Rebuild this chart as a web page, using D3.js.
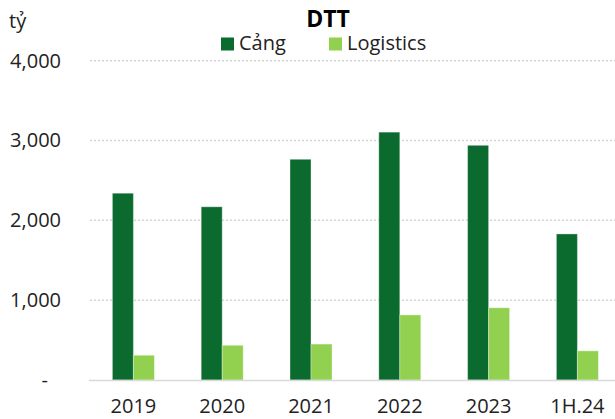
<!DOCTYPE html>
<html>
<head>
<meta charset="utf-8">
<script src="https://cdn.jsdelivr.net/npm/d3@7"></script>
<style>
  body { margin: 0; background: #fff; }
  svg { font-family: "Open Sans", "Noto Sans", sans-serif; }
</style>
</head>
<body>
<div id="chart"></div>
<script>
// data
var categories = ['2019', '2020', '2021', '2022', '2023', '1H.24'];
var seriesNames = ['Cảng', 'Logistics'];
var cang = [2340, 2170, 2765, 3105, 2940, 1830];
var logistics = [310, 435, 450, 815, 905, 365];
var yTicks = [0, 1000, 2000, 3000, 4000];
var colors = ['#0b6b2e', '#92d050'];

var width = 615, height = 419;

var svg = d3.select('#chart').append('svg')
    .attr('width', width)
    .attr('height', height);

var y = d3.scaleLinear()
    .domain([0, 4000])
    .range([380, 60.7]);

var x = d3.scaleBand()
    .domain(categories)
    .range([89, 621.8])
    .paddingInner(0.527)
    .paddingOuter(0.2635);

var xSub = d3.scaleBand()
    .domain(seriesNames)
    .range([0, x.bandwidth()]);

//Gridlines
svg.append('g')
    .selectAll('line')
    .data(yTicks.filter(function(d) { return d > 0; }))
    .enter().append('line')
    .attr('x1', 90)
    .attr('x2', width)
    .attr('y1', function(d) { return y(d); })
    .attr('y2', function(d) { return y(d); })
    .attr('stroke', '#d4d4d4')
    .attr('stroke-width', 1.5)
    .attr('stroke-dasharray', '2,2');

//Y axis
var yAxis = svg.append('g')
    .attr('transform', 'translate(89,0)')
    .call(d3.axisLeft(y)
        .tickValues(yTicks)
        .tickSize(0)
        .tickPadding(28)
        .tickFormat(function(d) { return d === 0 ? '-' : d3.format(',')(d); }));
yAxis.select('.domain').remove();
yAxis.selectAll('text')
    .attr('font-size', 20)
    .attr('font-family', '"Open Sans", sans-serif')
    .attr('fill', '#222')
    .attr('dx', function(d) { return d === 0 ? -13 : 0; });

//Bars
var data = categories.map(function(c, i) {
    return {cat: c, values: [cang[i], logistics[i]]};
});

var groups = svg.append('g')
    .selectAll('g')
    .data(data)
    .enter().append('g')
    .attr('transform', function(d) { return 'translate(' + x(d.cat) + ',0)'; });

groups.selectAll('rect')
    .data(function(d) {
        return d.values.map(function(v, j) { return {name: seriesNames[j], value: v, idx: j}; });
    })
    .enter().append('rect')
    .attr('x', function(d) { return xSub(d.name); })
    .attr('width', xSub.bandwidth())
    .attr('y', function(d) { return y(d.value); })
    .attr('height', function(d) { return y(0) - y(d.value); })
    .attr('fill', function(d) { return colors[d.idx]; })
    .attr('stroke', 'rgba(255,255,255,0.35)')
    .attr('stroke-width', 1);

//Baseline
svg.append('line')
    .attr('x1', 89)
    .attr('x2', width)
    .attr('y1', y(0) + 0.5)
    .attr('y2', y(0) + 0.5)
    .attr('stroke', '#d9d9d9')
    .attr('stroke-width', 1.5);

//X axis
var xAxis = svg.append('g')
    .attr('transform', 'translate(0,' + y(0) + ')')
    .call(d3.axisBottom(x).tickSize(0).tickPadding(19));
xAxis.select('.domain').remove();
xAxis.selectAll('text')
    .attr('font-size', 20)
    .attr('font-family', '"Open Sans", sans-serif')
    .attr('fill', '#222');

//Title
svg.append('text')
    .attr('x', 328)
    .attr('y', 27)
    .attr('text-anchor', 'middle')
    .attr('font-size', 23)
    .attr('font-weight', 'bold')
    .attr('fill', '#000')
    .text('DTT');

//Unit
svg.append('text')
    .attr('x', 9)
    .attr('y', 28)
    .attr('font-size', 20)
    .attr('fill', '#222')
    .text('tỷ');

//Legend
var legendX = [221, 329];
var legend = svg.append('g')
    .selectAll('g')
    .data(seriesNames)
    .enter().append('g')
    .attr('transform', function(d, i) { return 'translate(' + legendX[i] + ',0)'; });

legend.append('rect')
    .attr('x', 0)
    .attr('y', 37.5)
    .attr('width', 13)
    .attr('height', 13)
    .attr('fill', function(d, i) { return colors[i]; });

legend.append('text')
    .attr('x', 18)
    .attr('y', 50)
    .attr('font-size', 20)
    .attr('fill', '#222')
    .text(function(d) { return d; });
</script>
</body>
</html>
